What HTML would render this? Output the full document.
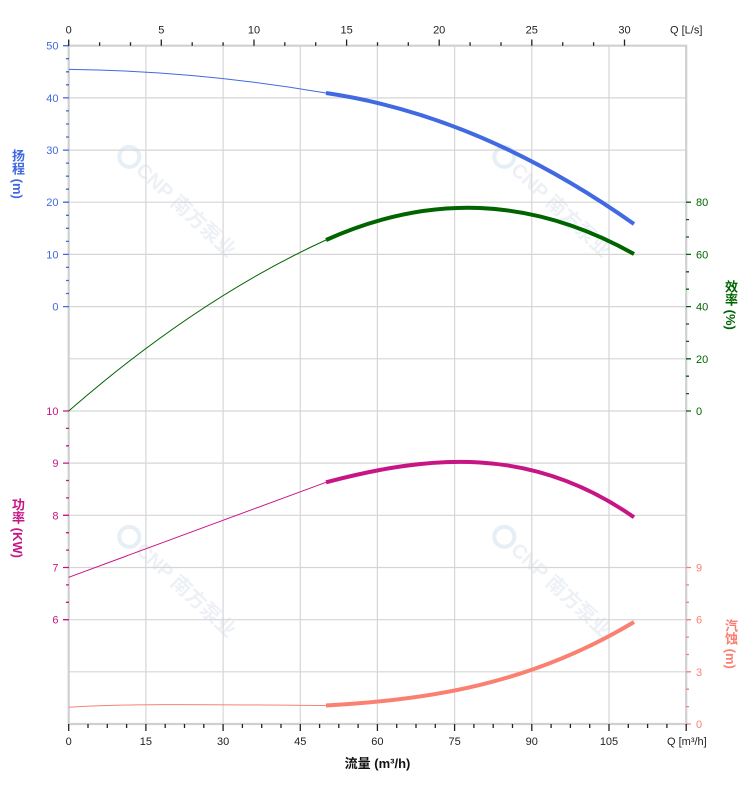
<!DOCTYPE html>
<html><head><meta charset="utf-8">
<style>
html,body{margin:0;padding:0;background:#fff;}
#wrap{position:relative;width:752px;height:797px;overflow:hidden;background:#fff;}
svg{position:absolute;left:0;top:0;}
.vt{position:absolute;writing-mode:vertical-rl;font-family:"Liberation Sans","Noto Sans CJK SC",sans-serif;font-size:13px;font-weight:bold;line-height:16px;white-space:nowrap;}
</style></head><body>
<div id="wrap">
<svg width="752" height="797" viewBox="0 0 752 797" xmlns="http://www.w3.org/2000/svg">
<rect x="0" y="0" width="752" height="797" fill="#fff"/>
<!-- watermarks -->
<g fill="#edf1f6" font-family="Liberation Sans, Noto Sans CJK SC, sans-serif" font-weight="bold" font-size="20">
  <g transform="translate(122,150) rotate(43)"><circle cx="10" cy="0" r="10" fill="none" stroke="#e6eef6" stroke-width="4"/><text x="24" y="7">CNP 南方泵业</text></g>
  <g transform="translate(497,150) rotate(43)"><circle cx="10" cy="0" r="10" fill="none" stroke="#e6eef6" stroke-width="4"/><text x="24" y="7">CNP 南方泵业</text></g>
  <g transform="translate(122,530) rotate(43)"><circle cx="10" cy="0" r="10" fill="none" stroke="#e6eef6" stroke-width="4"/><text x="24" y="7">CNP 南方泵业</text></g>
  <g transform="translate(497,530) rotate(43)"><circle cx="10" cy="0" r="10" fill="none" stroke="#e6eef6" stroke-width="4"/><text x="24" y="7">CNP 南方泵业</text></g>
</g>
<!-- grid -->
<g stroke="#d6d6d6" stroke-width="1.2" fill="none">
<path d="M145.9,45.7V724M223.1,45.7V724M300.3,45.7V724M377.4,45.7V724M454.6,45.7V724M531.8,45.7V724M609,45.7V724"/>
<path d="M68.7,97.9H686.2M68.7,150.1H686.2M68.7,202.2H686.2M68.7,254.4H686.2M68.7,306.6H686.2M68.7,358.8H686.2M68.7,411H686.2M68.7,463.1H686.2M68.7,515.3H686.2M68.7,567.5H686.2M68.7,619.7H686.2M68.7,671.8H686.2"/>
</g>
<!-- borders -->
<g stroke="#d0d0d0" stroke-width="2.2" fill="none">
<path d="M68.7,45.7H686.2M68.7,724H686.2M68.7,44.6V725M686.2,44.6V725"/>
</g>
<!-- ticks -->
<g fill="none" stroke-width="1.3">
<path stroke="#4169E1" d="M63,45.7H69M63,97.9H69M63,150.1H69M63,202.2H69M63,254.4H69M63,306.6H69"/>
<path stroke="#4169E1" d="M66,58.7H69M66,71.8H69M66,84.8H69M66,110.9H69M66,124H69M66,137H69M66,163.1H69M66,176.2H69M66,189.2H69M66,215.3H69M66,228.3H69M66,241.4H69M66,267.4H69M66,280.5H69M66,293.5H69"/>
<path stroke="#C71585" d="M63,411H69M63,463.1H69M63,515.3H69M63,567.5H69M63,619.7H69"/>
<path stroke="#C71585" d="M66,428.4H69M66,445.8H69M66,480.5H69M66,497.9H69M66,532.7H69M66,550.1H69M66,584.9H69M66,602.3H69"/>
<path stroke="#006400" d="M686,202.2H691M686,254.4H691M686,306.6H691M686,358.8H691M686,411H691"/>
<path stroke="#006400" d="M686,219.6H689M686,237H689M686,271.8H689M686,289.2H689M686,324H689M686,341.4H689M686,376.2H689M686,393.6H689"/>
<path stroke="#FA8072" d="M686,567.5H691M686,619.7H691M686,671.8H691M686,724H691"/>
<path stroke="#FA8072" d="M686,584.9H689M686,602.3H689M686,637.1H689M686,654.5H689M686,689.2H689M686,706.6H689"/>
<path stroke="#222" d="M68.7,724V731M145.9,724V731M223.1,724V731M300.3,724V731M377.4,724V731M454.6,724V731M531.8,724V731M609,724V731M686.2,724V731"/>
<path stroke="#222" d="M88,724V728M107.3,724V728M126.6,724V728M165.2,724V728M184.5,724V728M203.8,724V728M242.4,724V728M261.7,724V728M281,724V728M319.6,724V728M338.8,724V728M358.1,724V728M396.7,724V728M416,724V728M435.3,724V728M473.9,724V728M493.2,724V728M512.5,724V728M551.1,724V728M570.4,724V728M589.7,724V728M628.3,724V728M647.6,724V728M666.9,724V728"/>
<path stroke="#222" d="M68.7,45.7V39.5M161.3,45.7V39.5M254,45.7V39.5M346.6,45.7V39.5M439.2,45.7V39.5M531.8,45.7V39.5M624.5,45.7V39.5"/>
<path stroke="#222" d="M99.6,45.7V42.3M130.5,45.7V42.3M192.2,45.7V42.3M223.1,45.7V42.3M284.8,45.7V42.3M315.7,45.7V42.3M377.5,45.7V42.3M408.3,45.7V42.3M470.1,45.7V42.3M501,45.7V42.3M562.7,45.7V42.3M593.6,45.7V42.3"/>
</g>
<!-- curves -->
<g fill="none">
<path stroke="#4169E1" stroke-width="1" d="M68.7,69.4 Q197.4,70.8 326,93"/>
<path stroke="#4169E1" stroke-width="4" d="M326,93 Q480,115.5 634,224"/>
<path stroke="#006400" stroke-width="1" d="M68.7,411 Q197.4,298.8 326,240"/>
<path stroke="#006400" stroke-width="4" d="M326,240 C429,193.8 531,196.3 634,254"/>
<path stroke="#C71585" stroke-width="1" d="M68.7,577.3 Q197.4,529.9 326,482.3"/>
<path stroke="#C71585" stroke-width="4" d="M326,482.3 C429,455 531,445 634,517.3"/>
<path stroke="#FA8072" stroke-width="1" d="M68.7,707.3 C130,703.5 200,704.5 326,705.5"/>
<path stroke="#FA8072" stroke-width="4" d="M326,705.5 C429,700 531,684 634,622"/>
</g>
<!-- tick labels -->
<g font-family="Liberation Sans, sans-serif" font-size="11">
<g fill="#4169E1" text-anchor="end">
<text x="58.5" y="49.7">50</text><text x="58.5" y="101.9">40</text><text x="58.5" y="154.1">30</text><text x="58.5" y="206.2">20</text><text x="58.5" y="258.4">10</text><text x="58.5" y="310.6">0</text>
</g>
<g fill="#C71585" text-anchor="end">
<text x="58.5" y="415">10</text><text x="58.5" y="467.1">9</text><text x="58.5" y="519.3">8</text><text x="58.5" y="571.5">7</text><text x="58.5" y="623.7">6</text>
</g>
<g fill="#006400">
<text x="696" y="206.2">80</text><text x="696" y="258.4">60</text><text x="696" y="310.6">40</text><text x="696" y="362.8">20</text><text x="696" y="415">0</text>
</g>
<g fill="#FA8072">
<text x="696" y="571.5">9</text><text x="696" y="623.7">6</text><text x="696" y="675.8">3</text><text x="696" y="728">0</text>
</g>
<g fill="#222" text-anchor="middle">
<text x="68.7" y="745">0</text><text x="145.9" y="745">15</text><text x="223.1" y="745">30</text><text x="300.3" y="745">45</text><text x="377.4" y="745">60</text><text x="454.6" y="745">75</text><text x="531.8" y="745">90</text><text x="609" y="745">105</text>
<text x="68.7" y="33.3">0</text><text x="161.3" y="33.3">5</text><text x="254" y="33.3">10</text><text x="346.6" y="33.3">15</text><text x="439.2" y="33.3">20</text><text x="531.8" y="33.3">25</text><text x="624.5" y="33.3">30</text>
</g>
<g fill="#222">
<text x="667" y="745">Q [m³/h]</text>
<text x="670" y="33.3">Q [L/s]</text>
</g>
</g>
<text x="377.5" y="768" text-anchor="middle" font-family="Liberation Sans, Noto Sans CJK SC, sans-serif" font-size="13" font-weight="bold" fill="#111">流量 (m³/h)</text>
</svg>
<div class="vt" style="left:9px;top:149px;color:#4169E1;">扬程 (m)</div>
<div class="vt" style="left:9px;top:498px;color:#C71585;">功率 (KW)</div>
<div class="vt" style="left:722px;top:280px;color:#006400;">效率 (%)</div>
<div class="vt" style="left:722px;top:619px;color:#FA8072;">汽蚀 (m)</div>
</div>
</body></html>
